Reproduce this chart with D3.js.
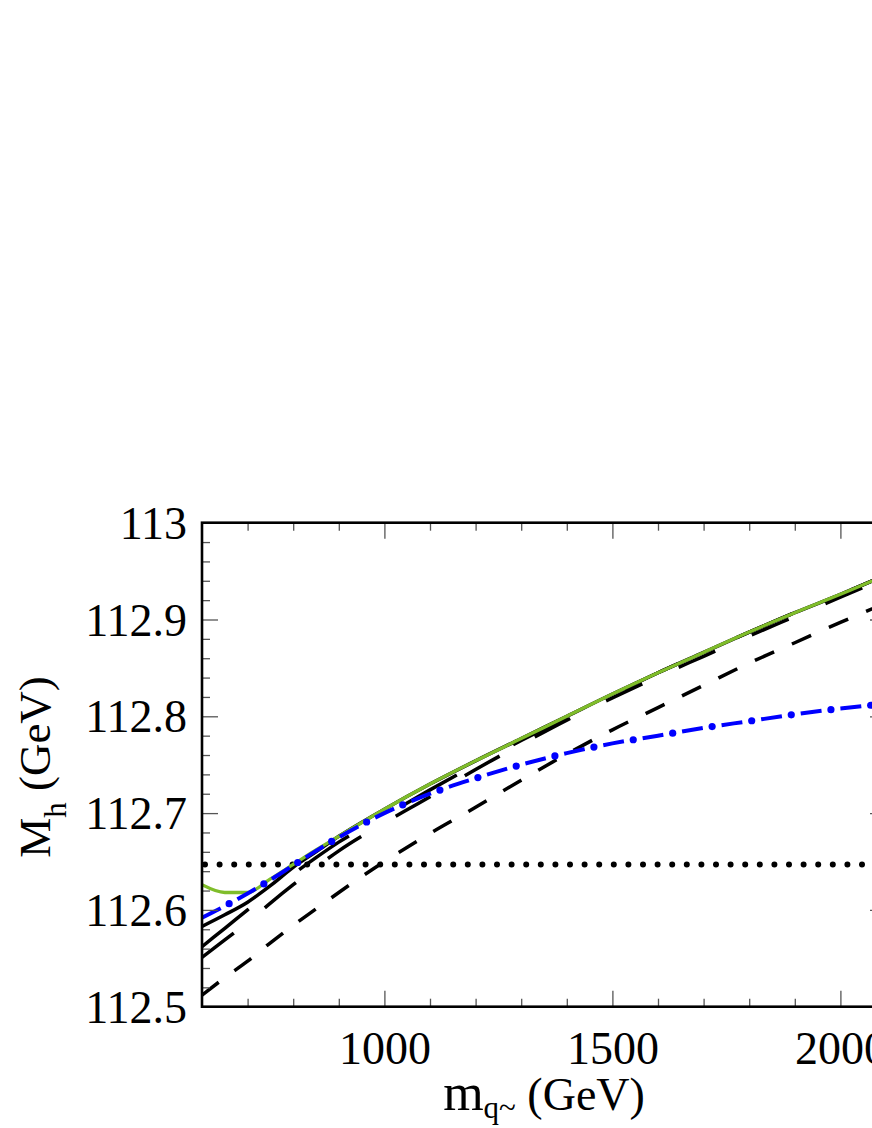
<!DOCTYPE html>
<html>
<head>
<meta charset="utf-8">
<script src="https://cdn.jsdelivr.net/npm/d3@7"></script>
<style>
body { margin: 0; background: #fff; }
svg { display: block; }
text { font-family: "Liberation Serif", "Times New Roman", serif; fill: #000; }
</style>
</head>
<body>
<svg id="chart" width="872" height="1128"></svg>
<script>
// squark mass grid (GeV)
var mSquark = [600, 650, 700, 750, 800, 850, 900, 1000, 1100, 1200, 1300, 1400, 1500, 1600, 1700, 1800, 1900, 2000, 2100];

// Higgs mass curves (GeV)
var mhGreen = [112.626, 112.618, 112.618, 112.632, 112.647, 112.662, 112.676, 112.704, 112.730, 112.754, 112.777, 112.800, 112.823, 112.845, 112.866, 112.887, 112.907, 112.926, 112.946];
var mhBlue  = [112.592, 112.604, 112.617, 112.631, 112.646, 112.661, 112.675, 112.700, 112.720, 112.736, 112.750, 112.762, 112.772, 112.780, 112.788, 112.795, 112.802, 112.808, 112.813];
var mhSolid = [112.583, 112.595, 112.608, 112.625, 112.644, 112.660, 112.676, 112.704, 112.730, 112.754, 112.777, 112.800, 112.823, 112.845, 112.866, 112.887, 112.907, 112.926, 112.946];
var mhLongDash = [112.562, 112.581, 112.600, 112.619, 112.637, 112.654, 112.670, 112.697, 112.724, 112.750, 112.775, 112.799, 112.822, 112.845, 112.866, 112.887, 112.907, 112.926, 112.946];
var mhDash  = [112.551, 112.569, 112.587, 112.607, 112.626, 112.644, 112.661, 112.690, 112.717, 112.745, 112.771, 112.796, 112.819, 112.841, 112.862, 112.883, 112.903, 112.923, 112.943];
var mhShortDash = [112.512, 112.530, 112.547, 112.566, 112.584, 112.601, 112.618, 112.650, 112.679, 112.706, 112.734, 112.761, 112.786, 112.809, 112.832, 112.855, 112.876, 112.897, 112.917];
var mhConst = 112.647;

var xMajor = [1000, 1500, 2000];
var xMinor = d3.range(700, 2100, 100).filter(function (v) { return v % 500 !== 0; });
var yMajor = [112.5, 112.6, 112.7, 112.8, 112.9, 113];
var yLabels = ["112.5", "112.6", "112.7", "112.8", "112.9", "113"];
var yMinor = d3.range(112.52, 113, 0.02).filter(function (v) { return Math.abs(v * 10 - Math.round(v * 10)) > 0.01; });

var svg = d3.select("#chart"),
    plotL = 202, plotT = 522.7, plotR = 886, plotB = 1006.7;

var x = d3.scaleLinear().domain([600, 2100]).range([plotL, plotR]),
    y = d3.scaleLinear().domain([112.5, 113]).range([plotB, plotT]);

svg.append("clipPath").attr("id", "plotclip")
    .append("rect").attr("x", plotL).attr("y", plotT)
    .attr("width", plotR - plotL).attr("height", plotB - plotT);

var plot = svg.append("g").attr("clip-path", "url(#plotclip)");

function series(vals) {
    return mSquark.map(function (m, i) { return [m, vals[i]]; });
}
var line = d3.line()
    .x(function (d) { return x(d[0]); })
    .y(function (d) { return y(d[1]); })
    .curve(d3.curveMonotoneX);

// horizontal dotted line
plot.append("path")
    .datum([[600, mhConst], [2100, mhConst]])
    .attr("d", line)
    .attr("fill", "none").attr("stroke", "#000")
    .attr("stroke-width", 6).attr("stroke-linecap", "round")
    .attr("stroke-dasharray", "0,14.6").attr("stroke-dashoffset", -3);

// black curves, drawn under the green and blue ones
var blackStyles = [
    { vals: mhShortDash, dash: "21,19.5" },
    { vals: mhDash, dash: "40,40" },
    { vals: mhLongDash, dash: "60,64" },
    { vals: mhSolid, dash: null }
];
blackStyles.forEach(function (s) {
    plot.append("path")
        .datum(series(s.vals))
        .attr("d", line)
        .attr("fill", "none").attr("stroke", "#000")
        .attr("stroke-width", 3.5)
        .attr("stroke-dasharray", s.dash);
});

// green full result
plot.append("path")
    .datum(series(mhGreen))
    .attr("d", line)
    .attr("fill", "none").attr("stroke", "#7fbd2a")
    .attr("stroke-width", 3.3);

// blue dash-dot
var bluePath = plot.append("path")
    .datum(series(mhBlue))
    .attr("d", line)
    .attr("fill", "none").attr("stroke", "#0000ff")
    .attr("stroke-width", 4)
    .attr("stroke-dasharray", "21,19");

var node = bluePath.node(), total = node.getTotalLength(), dots = [];
for (var s = 30.5; s < total; s += 40) dots.push(node.getPointAtLength(s));
plot.selectAll("circle.bdot").data(dots).enter().append("circle")
    .attr("class", "bdot")
    .attr("cx", function (p) { return p.x; })
    .attr("cy", function (p) { return p.y; })
    .attr("r", 3.6).attr("fill", "#0000ff");

// axes: inward ticks on all sides
function styleAxis(g) {
    g.select(".domain").remove();
    g.selectAll(".tick line").attr("stroke", "#555").attr("stroke-width", 1.3);
    g.selectAll(".tick text").attr("font-size", 46).attr("fill", "#000")
        .style("font-family", "'Liberation Serif', 'Times New Roman', serif");
}

svg.append("g").attr("transform", "translate(0," + plotB + ")")
    .call(d3.axisBottom(x).tickValues(xMajor).tickSize(-16).tickPadding(25).tickFormat(d3.format("d")))
    .call(styleAxis);
svg.append("g").attr("transform", "translate(0," + plotB + ")")
    .call(d3.axisBottom(x).tickValues(xMinor).tickSize(-8).tickFormat(""))
    .call(styleAxis);
svg.append("g").attr("transform", "translate(0," + plotT + ")")
    .call(d3.axisTop(x).tickValues(xMajor).tickSize(-16).tickFormat(""))
    .call(styleAxis);
svg.append("g").attr("transform", "translate(0," + plotT + ")")
    .call(d3.axisTop(x).tickValues(xMinor).tickSize(-8).tickFormat(""))
    .call(styleAxis);

svg.append("g").attr("transform", "translate(" + plotL + ",0)")
    .call(d3.axisLeft(y).tickValues(yMajor).tickSize(-16).tickPadding(15)
        .tickFormat(function (d, i) { return yLabels[i]; }))
    .call(styleAxis)
    .selectAll(".tick text").attr("dy", "0.34em");
svg.append("g").attr("transform", "translate(" + plotL + ",0)")
    .call(d3.axisLeft(y).tickValues(yMinor).tickSize(-8).tickFormat(""))
    .call(styleAxis);
svg.append("g").attr("transform", "translate(" + plotR + ",0)")
    .call(d3.axisRight(y).tickValues(yMajor).tickSize(-16).tickFormat(""))
    .call(styleAxis);
svg.append("g").attr("transform", "translate(" + plotR + ",0)")
    .call(d3.axisRight(y).tickValues(yMinor).tickSize(-8).tickFormat(""))
    .call(styleAxis);

// frame
svg.append("rect")
    .attr("x", plotL).attr("y", plotT)
    .attr("width", plotR - plotL).attr("height", plotB - plotT)
    .attr("fill", "none").attr("stroke", "#000").attr("stroke-width", 2.6);

// axis titles
var xt = svg.append("text")
    .attr("x", 544).attr("y", 1110)
    .attr("text-anchor", "middle").attr("font-size", 46);
xt.append("tspan").attr("font-size", 52).text("m");
xt.append("tspan").attr("font-size", 31).attr("dy", 8).text("q~");
xt.append("tspan").attr("dy", -8).text(" (GeV)");

var yt = svg.append("text")
    .attr("transform", "translate(50,767) rotate(-90)")
    .attr("text-anchor", "middle").attr("font-size", 45);
yt.append("tspan").text("M");
yt.append("tspan").attr("font-size", 31).attr("dy", 16).text("h");
yt.append("tspan").attr("dy", -16).text(" (GeV)");
</script>
</body>
</html>
